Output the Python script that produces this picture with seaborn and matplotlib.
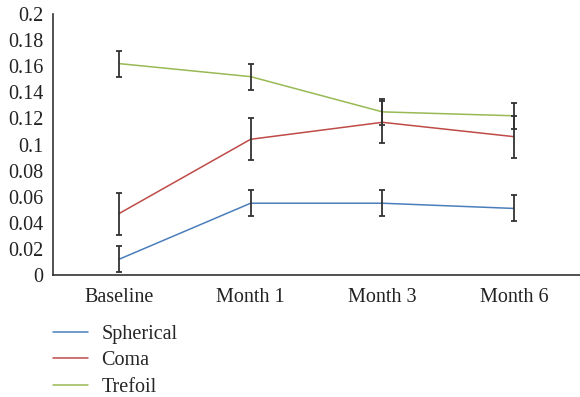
import numpy as np
import pandas as pd
import matplotlib
matplotlib.use("Agg")
import matplotlib.pyplot as plt
import seaborn as sns
from matplotlib.lines import Line2D

categories = ["Baseline", "Month 1", "Month 3", "Month 6"]
series_names = ["Spherical", "Coma", "Trefoil"]
spherical = [0.012, 0.055, 0.055, 0.051]
coma = [0.047, 0.104, 0.117, 0.106]
trefoil = [0.162, 0.152, 0.125, 0.122]
spherical_err = [0.010, 0.010, 0.010, 0.010]
coma_err = [0.016, 0.016, 0.016, 0.016]
trefoil_err = [0.010, 0.010, 0.010, 0.010]
y_ticks = [0, 0.02, 0.04, 0.06, 0.08, 0.1, 0.12, 0.14, 0.16, 0.18, 0.2]
y_tick_labels = ["0", "0.02", "0.04", "0.06", "0.08", "0.1", "0.12", "0.14", "0.16", "0.18", "0.2"]

colors = ["#4a7ebb", "#be4b48", "#98b954"]

sns.set_style("white")
plt.rcParams["font.family"] = ["Liberation Serif", "DejaVu Serif"]

df = pd.DataFrame({
    "cat": categories * 3,
    "val": spherical + coma + trefoil,
    "err": spherical_err + coma_err + trefoil_err,
    "series": sum([[s] * len(categories) for s in series_names], []),
})

FS = 14.5

fig = plt.figure(figsize=(5.8, 3.97), dpi=100)
ax = fig.add_axes([53 / 580, 1 - 275 / 397, 1 - 53 / 580, (275 - 14) / 397])

sns.lineplot(data=df, x="cat", y="val", hue="series", palette=colors,
             hue_order=series_names, ax=ax, linewidth=1.1, legend=False, sort=False)

xs = np.arange(len(categories))
for name in series_names:
    sub = df[df["series"] == name]
    ax.errorbar(xs, sub["val"].values, yerr=sub["err"].values, fmt="none",
                ecolor="#333333", elinewidth=1.3, capsize=2.5, capthick=1.3, zorder=3)

ax.set_xlim(-0.5, len(categories) - 0.5)
ax.set_ylim(0, 0.2)
ax.set_yticks(y_ticks)
ax.set_yticklabels(y_tick_labels, fontsize=FS)
ax.set_xticks(xs)
ax.set_xticklabels(categories, fontsize=FS)
ax.set_xticks(np.arange(len(categories) - 1) + 0.5, minor=True)
ax.tick_params(axis="x", which="major", length=0, pad=9, colors="#222222")
ax.tick_params(axis="x", which="minor", length=5, direction="in", width=1, color="#333333")
ax.tick_params(axis="y", which="major", length=5, direction="in", width=1, color="#333333", pad=7, labelcolor="#222222")
ax.set_xlabel("")
ax.set_ylabel("")
for s in ["top", "right"]:
    ax.spines[s].set_visible(False)
for s in ["left", "bottom"]:
    ax.spines[s].set_color("#333333")
    ax.spines[s].set_linewidth(1.2)

handles = [Line2D([0], [0], color=c, lw=1.1) for c in colors]
fig.legend(handles, series_names, loc="upper left", bbox_to_anchor=(53 / 580, 1 - 325 / 397),
           frameon=False, fontsize=FS, handlelength=1.75, handletextpad=0.65,
           labelspacing=0.36, borderaxespad=0, borderpad=0)

fig.savefig("out.png", dpi=100, facecolor="white")
